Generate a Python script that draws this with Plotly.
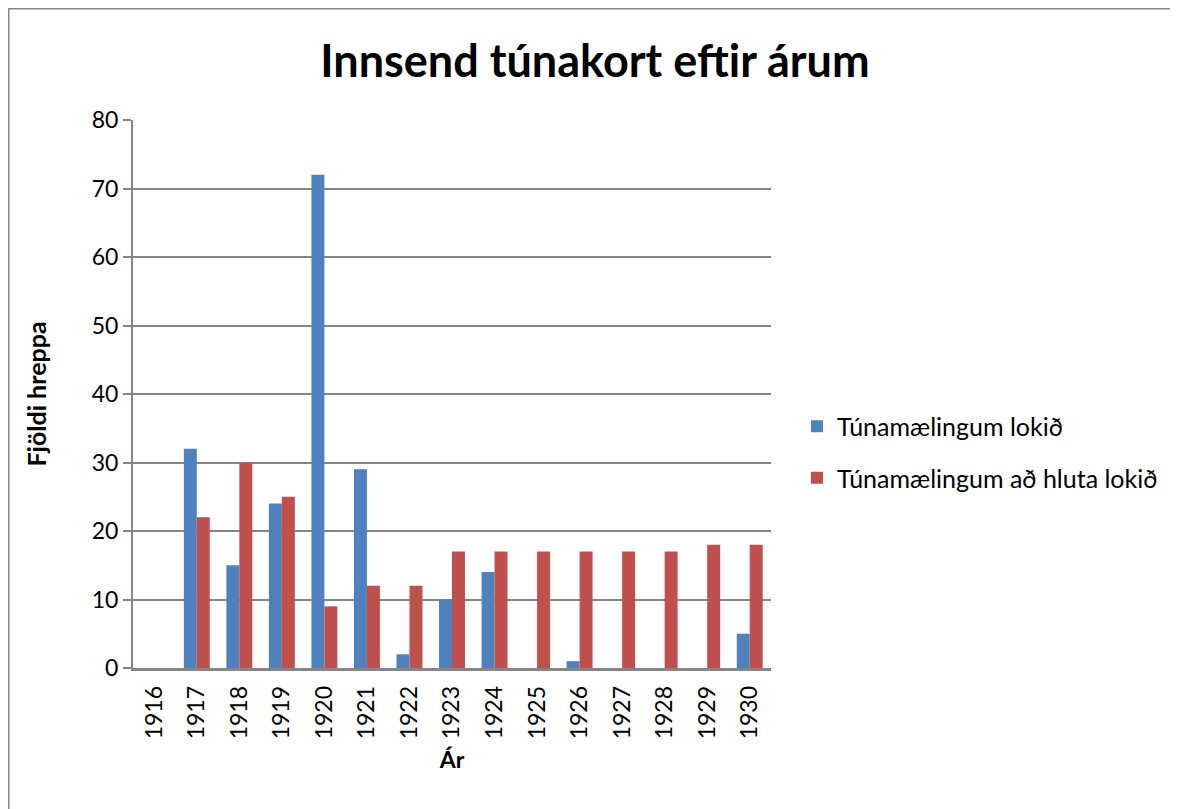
import plotly.graph_objects as go

years = ["1916", "1917", "1918", "1919", "1920", "1921", "1922", "1923",
         "1924", "1925", "1926", "1927", "1928", "1929", "1930"]
lokid = [0, 32, 15, 24, 72, 29, 2, 10, 14, 0, 1, 0, 0, 0, 5]
ad_hluta = [0, 22, 30, 25, 9, 12, 12, 17, 17, 17, 17, 17, 17, 18, 18]

FONT = "Lato, 'Open Sans', sans-serif"

fig = go.Figure()
fig.add_trace(go.Bar(x=years, y=lokid, name="Túnamælingum lokið", legendgroup="a",
                     marker=dict(color="#4F81BD", line=dict(width=0))))
fig.add_trace(go.Bar(x=years, y=ad_hluta, name="Túnamælingum að hluta lokið", legendgroup="b",
                     marker=dict(color="#C0504D", line=dict(width=0))))

# the page body adds an 8px margin, so figure coords = page coords - 8
OFF = 8
W, H = 1178 - OFF, 809 - OFF
L, R, T, B = 133 - OFF, 771 - OFF, 120 - OFF, 668 - OFF
pw, ph = R - L, B - T


def px(x):
    return (x - OFF - L) / pw


def py(y):
    return (B - (y - OFF)) / ph


fig.update_layout(
    width=W, height=H,
    margin=dict(l=L, r=W - R, t=T, b=H - B, autoexpand=False),
    paper_bgcolor="white", plot_bgcolor="white",
    barmode="group", bargap=0.39, bargroupgap=0,
    font=dict(family=FONT, color="#000000", size=23),
    title=dict(text="<b>Innsend túnakort eftir árum</b>", x=(595 - OFF) / W, xanchor="center",
               xref="container", y=1 - (61 - OFF) / H, yanchor="middle", yref="container",
               font=dict(size=45, family=FONT)),
    legend=dict(x=px(797), y=py(452), xanchor="left", yanchor="middle",
                font=dict(size=25), itemwidth=30, traceorder="grouped", tracegroupgap=16,
                bgcolor="rgba(0,0,0,0)"),
    xaxis=dict(type="category", tickangle=-90, showline=True, linecolor="#868686",
               linewidth=2.5, showgrid=False, ticks="", tickfont=dict(size=23),
               ticklabelstandoff=6,
               title=dict(text="<b>Ár</b>", font=dict(size=23), standoff=14)),
    yaxis=dict(range=[0, 80], dtick=10, showline=True, linecolor="#868686",
               linewidth=2, showgrid=True, gridcolor="#868686", gridwidth=2,
               ticks="outside", ticklen=8, tickcolor="#868686", tickwidth=2,
               zeroline=False, tickfont=dict(size=23),
               title=dict(text="<b>Fjöldi hreppa</b>", font=dict(size=25), standoff=38)),
    shapes=[dict(type="rect", xref="paper", yref="paper",
                 x0=px(8.8), x1=px(1176), y0=py(830), y1=py(8.8),
                 line=dict(color="#868686", width=1.5), fillcolor="rgba(0,0,0,0)",
                 layer="below")],
)

fig.write_html("out.html")
